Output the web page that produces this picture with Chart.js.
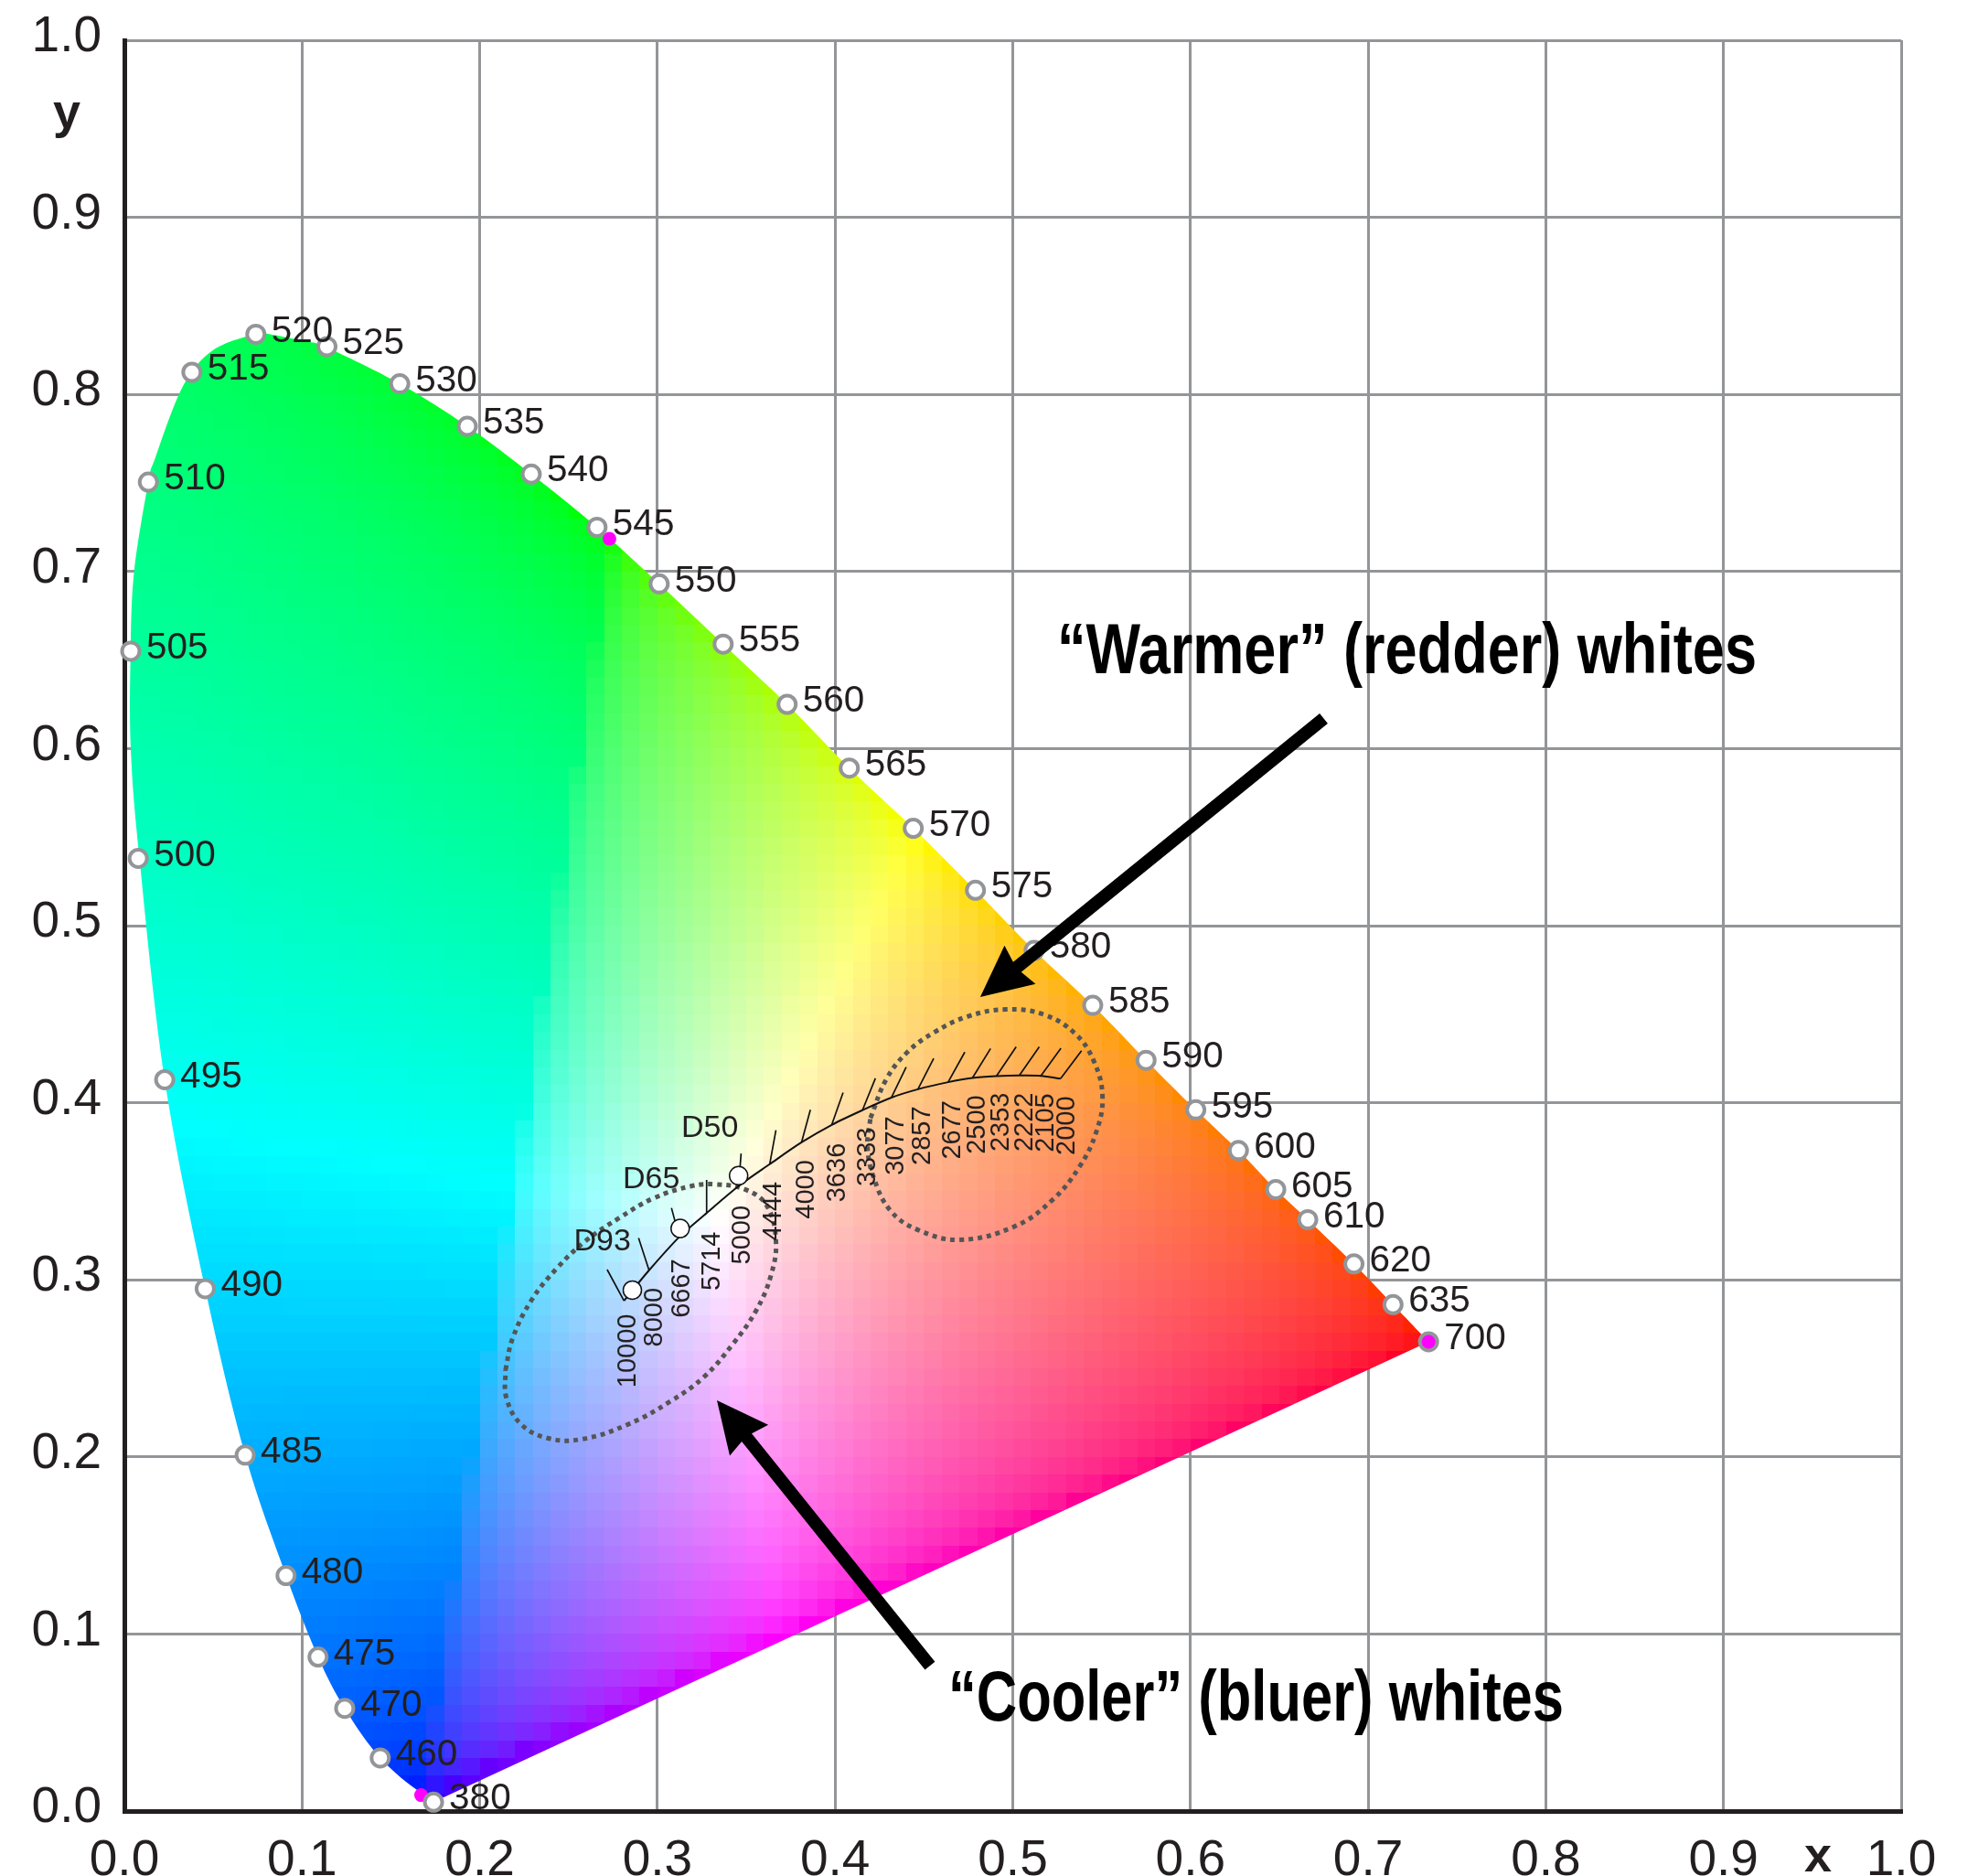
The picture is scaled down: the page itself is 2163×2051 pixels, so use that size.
<!DOCTYPE html>
<html>
<head>
<meta charset="utf-8">
<title>CIE xy chromaticity diagram</title>
<script src="https://cdn.jsdelivr.net/npm/chart.js@4/dist/chart.umd.min.js"></script>
<style>
html,body{margin:0;padding:0;background:#fff;}
canvas{display:block;}
</style>
</head>
<body>
<canvas id="chart" width="2163" height="2051"></canvas>
<script>
// Spectral locus markers (wavelength in nm)
const waveLabels = ['380','460','470','475','480','485','490','495','500','505','510','515','520','525','530','535','540','545','550','555','560','565','570','575','580','585','590','595','600','605','610','620','635','700'];
const waveX = [.174,.144,.124,.109,.091,.068,.0455,.0227,.0078,.0036,.0135,.038,.074,.114,.155,.193,.229,.266,.301,.337,.373,.408,.444,.479,.512,.545,.575,.603,.627,.648,.666,.692,.714,.734];
const waveY = [.005,.030,.058,.087,.133,.201,.295,.413,.538,.655,.7505,.8125,.834,.827,.806,.782,.755,.725,.693,.659,.625,.589,.555,.520,.486,.455,.424,.396,.373,.351,.334,.309,.286,.265];

// Outline of the coloured area, from the blue corner up the left side and down to the red corner
const outlineX = [.1797,.167,.144,.124,.109,.091,.068,.0455,.0227,.0085,.0036,.0035,.0055,.0135,.0175,.033,.05,.074,.0808,.1014,.114,.155,.193,.229,.266,.301,.337,.373,.408,.444,.479,.512,.545,.575,.603,.627,.648,.666,.692,.714,.734];
const outlineY = [.0077,.0105,.030,.058,.087,.133,.201,.295,.413,.538,.600,.655,.700,.7505,.7645,.8048,.825,.8342,.8342,.830,.8264,.806,.782,.755,.725,.693,.659,.625,.589,.555,.520,.486,.455,.424,.396,.373,.351,.334,.309,.286,.265];

// Magenta primaries
const primaryX = [.167,.273];
const primaryY = [.009,.7185];

// Black body curve, colour temperature ticks
const kelvinLabels = ['10000','8000','6667','5714','5000','4444','4000','3636','3333','3077','2857','2677','2500','2353','2222','2105','2000'];
const curveX = [.2812,.2953,.3123,.3277,.3457,.3632,.3811,.3981,.4154,.4317,.4466,.4636,.4773,.4908,.5037,.5158,.5269];
const curveY = [.2882,.3054,.3242,.3377,.3529,.3653,.3776,.3875,.3958,.4029,.4076,.4116,.4140,.4150,.4154,.4152,.4136];
const tipX = [.2717,.2894,.3079,.3277,.3471,.3667,.3861,.4045,.4227,.4400,.4555,.4730,.4875,.5019,.5149,.5271,.5387];
const tipY = [.3058,.3236,.3406,.3564,.3713,.3845,.3960,.4057,.4138,.4201,.4250,.4286,.4306,.4316,.4316,.4308,.4294];
const kelvinX = [.2838,.2987,.3141,.3311,.3481,.3654,.3838,.4013,.4185,.4346,.4493,.4663,.4800,.4937,.5067,.5190,.5308];
const kelvinY = [.2807,.2955,.3118,.3272,.3420,.3554,.3677,.3772,.3861,.3924,.3980,.4013,.4043,.4057,.4057,.4053,.4037];

// Named white points
const whiteLabels = ['D93','D65','D50'];
const whiteX = [.2859,.3128,.3457];
const whiteY = [.2942,.3290,.3588];
const whiteLabelX = [.2690,.2965,.3295];
const whiteLabelY = [.3215,.3565,.3855];

// Dotted regions
const warmX = [.4199,.4288,.4407,.4560,.4749,.4962,.5175,.5352,.5458,.5505,.5470,.5375,.5222,.5009,.4702,.4466,.4312,.4217,.4182,.4199];
const warmY = [.3914,.4132,.4286,.4399,.4488,.4527,.4498,.4389,.4231,.4033,.3835,.3638,.3450,.3301,.3226,.3282,.3390,.3578,.3756,.3914];
const coolX = [.2145,.2185,.2292,.2433,.2599,.2788,.2977,.3190,.3331,.3497,.3615,.3667,.3639,.3556,.3426,.3261,.3072,.2835,.2575,.2386,.2233,.2150,.2145];
const coolY = [.2491,.2669,.2886,.3064,.3222,.3351,.3460,.3529,.3539,.3509,.3420,.3222,.3025,.2827,.2639,.2451,.2313,.2184,.2100,.2105,.2184,.2333,.2491];

// Call-outs
const arrowFromX = [.675,.4534];
const arrowFromY = [.617,.0821];
const arrowToX = [.4817,.3335];
const arrowToY = [.4597,.2319];
const calloutLabels = ['\u201CWarmer\u201D (redder) whites','\u201CCooler\u201D (bluer) whites'];

const axisTicks = [0,.1,.2,.3,.4,.5,.6,.7,.8,.9,1];

const toPoints = (xs,ys)=>xs.map((x,i)=>({x,y:ys[i]}));

// ticks as separate segments, broken by gaps
const tickPoints = [];
curveX.forEach((x,i)=>{
  tickPoints.push({x,y:curveY[i]},{x:tipX[i],y:tipY[i]},{x:NaN,y:NaN});
});

const TEXT = '#231f20';

// xy to display colour through the CIE RGB primaries (the magenta dots), brightest channel at full
function xyColor(x,y){
  const z = 1-x-y;
  let r =  2.3646*x-0.8965*y-0.4681*z;
  let g = -0.5152*x+1.4264*y+0.0888*z;
  let b =  0.0052*x-0.0144*y+1.0092*z;
  r=Math.max(r,0); g=Math.max(g,0); b=Math.max(b,0);
  const m = Math.max(r,g,b) || 1;
  const enc = c=>Math.round(Math.pow(c/m,1/2.2)*255);
  return 'rgb('+enc(r)+','+enc(g)+','+enc(b)+')';
}

function outlinePath(ctx,sx,sy){
  const pts = outlineX.map((x,i)=>[sx.getPixelForValue(x),sy.getPixelForValue(outlineY[i])]);
  ctx.beginPath();
  ctx.moveTo(pts[0][0],pts[0][1]);
  for(let i=0;i<pts.length-1;i++){
    const p0=pts[Math.max(i-1,0)],p1=pts[i],p2=pts[i+1],p3=pts[Math.min(i+2,pts.length-1)];
    ctx.bezierCurveTo(p1[0]+(p2[0]-p0[0])/6,p1[1]+(p2[1]-p0[1])/6,p2[0]-(p3[0]-p1[0])/6,p2[1]-(p3[1]-p1[1])/6,p2[0],p2[1]);
  }
  ctx.closePath();
}

const gamutPlugin = {
  id:'gamut',
  beforeDatasetsDraw(chart){
    const {ctx,scales:{x:sx,y:sy}} = chart;
    ctx.save();
    outlinePath(ctx,sx,sy);
    ctx.clip();
    for(let i=0;i<75;i++){
      for(let j=0;j<85;j++){
        const l=Math.round(sx.getPixelForValue(i/100)), r=Math.round(sx.getPixelForValue((i+1)/100));
        const t=Math.round(sy.getPixelForValue((j+1)/100)), b=Math.round(sy.getPixelForValue(j/100));
        ctx.fillStyle = xyColor((i+.5)/100,(j+.5)/100);
        ctx.fillRect(l,t,r-l,b-t);
      }
    }
    ctx.restore();
  }
};

function drawArrow(ctx,x0,y0,x1,y1){
  const len=Math.hypot(x0-x1,y0-y1), ux=(x0-x1)/len, uy=(y0-y1)/len, px=-uy, py=ux;
  const at=(a,p)=>[x1+ux*a+px*p,y1+uy*a+py*p];
  const shape=[at(0,0),at(56,27),at(52,7),at(len,7),at(len,-7),at(52,-7),at(56,-27)];
  ctx.fillStyle='#000';
  ctx.beginPath();
  shape.forEach((p,i)=>i?ctx.lineTo(p[0],p[1]):ctx.moveTo(p[0],p[1]));
  ctx.closePath();
  ctx.fill();
}

const annotationPlugin = {
  id:'annotations',
  afterDatasetsDraw(chart){
    const {ctx,scales:{x:sx,y:sy}} = chart;
    ctx.save();
    ctx.fillStyle=TEXT;
    ctx.textBaseline='middle';
    ctx.textAlign='left';

    // wavelengths
    ctx.font='40.5px "Liberation Sans"';
    waveLabels.forEach((t,i)=>{
      ctx.fillText(t,sx.getPixelForValue(waveX[i])+17,sy.getPixelForValue(waveY[i])-3);
    });

    // white point names
    ctx.font='34px "Liberation Sans"';
    ctx.textAlign='center';
    whiteLabels.forEach((t,i)=>{
      ctx.fillText(t,sx.getPixelForValue(whiteLabelX[i]),sy.getPixelForValue(whiteLabelY[i]));
    });

    // colour temperatures, rotated
    ctx.font='29px "Liberation Sans"';
    ctx.textAlign='right';
    kelvinLabels.forEach((t,i)=>{
      ctx.save();
      ctx.translate(sx.getPixelForValue(kelvinX[i]),sy.getPixelForValue(kelvinY[i]));
      ctx.rotate(-Math.PI/2);
      ctx.fillText(t,0,0);
      ctx.restore();
    });

    // axis names
    ctx.font='bold 54px "Liberation Sans"';
    ctx.textAlign='center';
    ctx.fillText('y',73,125);
    ctx.fillText('x',1988,2031);

    // arrows and call-outs
    arrowFromX.forEach((x,i)=>{
      drawArrow(ctx,sx.getPixelForValue(x),sy.getPixelForValue(arrowFromY[i]),sx.getPixelForValue(arrowToX[i]),sy.getPixelForValue(arrowToY[i]));
    });
    ctx.fillStyle='#000';
    ctx.textAlign='left';
    ctx.font='bold 78px "Liberation Sans"';
    const boxes=[[1156,765,714],[1037,673,1859]];
    calloutLabels.forEach((t,i)=>{
      const b=boxes[i], w=ctx.measureText(t).width;
      ctx.save();
      ctx.translate(b[0],b[2]);
      ctx.scale(b[1]/w,1);
      ctx.fillText(t,0,0);
      ctx.restore();
    });
    ctx.restore();
  }
};

new Chart(document.getElementById('chart'),{
  type:'scatter',
  data:{datasets:[
    {data:toPoints(warmX,warmY),showLine:true,tension:.4,borderColor:'#555',borderWidth:5,borderDash:[5,5],pointRadius:0,clip:false},
    {data:toPoints(coolX,coolY),showLine:true,tension:.4,borderColor:'#555',borderWidth:5,borderDash:[5,5],pointRadius:0,clip:false},
    {data:tickPoints,showLine:true,spanGaps:false,borderColor:'#111',borderWidth:1.7,pointRadius:0,clip:false},
    {data:toPoints(curveX,curveY),showLine:true,tension:.3,borderColor:'#111',borderWidth:2,pointRadius:0,clip:false},
    {data:toPoints(whiteX,whiteY),pointRadius:10,pointBackgroundColor:'#fff',pointBorderColor:'#111',pointBorderWidth:1.5,clip:false},
    {data:toPoints(primaryX,primaryY),pointRadius:7.5,pointBackgroundColor:'#ff00ff',pointBorderWidth:0,clip:false},
    {data:toPoints(waveX,waveY),pointRadius:9.5,
      pointBackgroundColor:waveLabels.map(w=>w==='700'?'#ff00ff':'#fff'),
      pointBorderColor:'#939598',pointBorderWidth:4,clip:false}
  ].reverse()},
  options:{
    responsive:false,
    animation:false,
    layout:{padding:{left:0,top:44,right:84,bottom:0}},
    plugins:{legend:{display:false},tooltip:{enabled:false}},
    scales:{
      x:{type:'linear',min:0,max:1,
        afterFit(s){s.height=71;},
        afterBuildTicks(s){s.ticks=axisTicks.map(value=>({value}));},
        grid:{color:'#939598',lineWidth:3,drawTicks:false},
        border:{color:TEXT,width:5},
        ticks:{autoSkip:false,maxRotation:0,padding:22,color:TEXT,font:{family:'"Liberation Sans"',size:55},callback:v=>v.toFixed(1)}
      },
      y:{type:'linear',min:0,max:1,
        afterFit(s){s.width=136;},
        afterBuildTicks(s){s.ticks=axisTicks.map(value=>({value}));},
        grid:{color:'#939598',lineWidth:3,drawTicks:false},
        border:{color:TEXT,width:5},
        // second empty line lifts the label a little above its grid line
        ticks:{autoSkip:false,padding:25,color:TEXT,font:{family:'"Liberation Sans"',size:55,lineHeight:'6px'},callback:v=>[v.toFixed(1),'']}
      }
    }
  },
  plugins:[gamutPlugin,annotationPlugin]
});
</script>
</body>
</html>
